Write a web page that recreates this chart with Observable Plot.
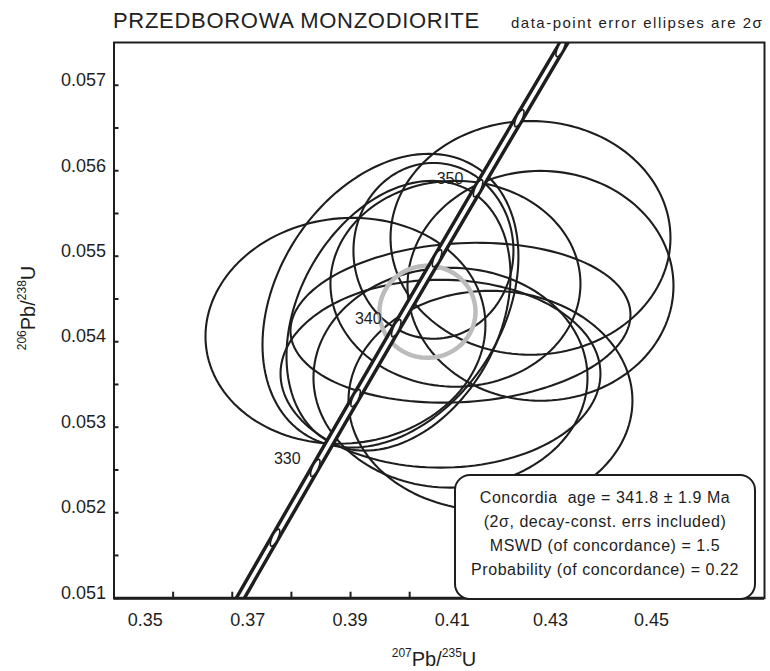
<!DOCTYPE html>
<html><head><meta charset="utf-8">
<script src="https://cdn.jsdelivr.net/npm/d3@7"></script>
<script src="https://cdn.jsdelivr.net/npm/@observablehq/plot@0.6"></script>
<style>
body{margin:0;background:#fff;}
#wrap{position:relative;width:770px;height:671px;font-family:"Liberation Sans",Arial,sans-serif;color:#1e1e1e;overflow:hidden;}
.ov{position:absolute;white-space:nowrap;}
sup{font-size:0.6em;vertical-align:0;position:relative;top:-0.75em;line-height:0;}
#legend{position:absolute;left:454px;top:474px;width:298px;height:112px;border:2px solid #1e1e1e;border-radius:16px;background:#fff;text-align:center;font-size:16px;line-height:24px;padding-top:10px;box-sizing:content-box;letter-spacing:0.55px;}
</style></head><body><div id="wrap"></div>
<script>
// ---- texts ----
const titleText = "PRZEDBOROWA MONZODIORITE";
const subtitleText = "data-point error ellipses are 2σ";
const legendLines = [
  "Concordia\u00a0\u00a0age = 341.8 ± 1.9 Ma",
  "(2σ, decay-const. errs included)",
  "MSWD (of concordance) = 1.5",
  "Probability (of concordance) = 0.22"
];

// ---- axes ----
const xTickValues = [0.36, 0.37, 0.38, 0.39, 0.40, 0.41, 0.42, 0.43, 0.44, 0.45];
const xLabelText = ["0.35", "0.37", "0.39", "0.41", "0.43", "0.45"];
const xLabelAt = [0.3553, 0.3726, 0.3899, 0.4072, 0.4238, 0.4409];
const yLabelValues = [0.051, 0.052, 0.053, 0.054, 0.055, 0.056, 0.057];
const yTickValues = [0.051, 0.0515, 0.052, 0.0525, 0.053, 0.0535, 0.054, 0.0545, 0.055, 0.0555, 0.056, 0.0565, 0.057];

// ---- data-point error ellipses (2 sigma) ----
const ellipseId  = ["a", "b", "c", "d", "e", "f", "g", "h", "i", "j", "k"];
const ellipseX   = [0.38914, 0.39675, 0.39811, 0.40402, 0.40774, 0.42043, 0.42212, 0.41366, 0.40859, 0.40521, 0.40690];
const ellipseY   = [0.054128, 0.054480, 0.054304, 0.055063, 0.054678, 0.055215, 0.054654, 0.053310, 0.054222, 0.053626, 0.053579];
const ellipseSx  = [0.02367, 0.02164, 0.01894, 0.01353, 0.02114, 0.02367, 0.02249, 0.02401, 0.02875, 0.02705, 0.02317];
const ellipseSy  = [0.001321, 0.001718, 0.001578, 0.001028, 0.001204, 0.001367, 0.001344, 0.001286, 0.000935, 0.001099, 0.001286];
const ellipseRho = [0.05, 0.30, 0.30, 0.0, 0.0, 0.0, 0.0, 0.0, 0.10, 0.0, 0.0];

// ---- concordia age ellipse (grey) ----
const meanX = 0.40301, meanY = 0.054350, meanSx = 0.00812, meanSy = 0.000538, meanRho = 0.0;

// ---- concordia curve ----
const concordiaAge = [320, 325, 330, 335, 340, 345, 350, 355, 360, 365];
const concordiaX = [0.370468, 0.377233, 0.384032, 0.390862, 0.397728, 0.404629, 0.411563, 0.418531, 0.425533, 0.432569];
const concordiaY = [0.050893, 0.051708, 0.052524, 0.053341, 0.054158, 0.054976, 0.055795, 0.056614, 0.057434, 0.058254];
const markerAges = [325, 330, 335, 340, 345, 350, 355, 360];
const labelAges = [330, 340, 350];
const markerSx = 0.00080, markerSy = 0.000100, markerRho = 0.75;

// ---- build tables ----
function ellipse(id, cx, cy, sx, sy, rho, n = 144) {
  const pts = [];
  const s = Math.sqrt(1 - rho * rho);
  for (let k = 0; k <= n; k++) {
    const t = 2 * Math.PI * k / n;
    pts.push({id, x: cx + sx * Math.cos(t), y: cy + sy * (rho * Math.cos(t) + s * Math.sin(t))});
  }
  return pts;
}
const ellipsePts = ellipseId.flatMap((id, i) => ellipse(id, ellipseX[i], ellipseY[i], ellipseSx[i], ellipseSy[i], ellipseRho[i]));
const meanPts = ellipse("mean", meanX, meanY, meanSx, meanSy, meanRho);
const concordia = concordiaAge.map((a, i) => ({age: a, x: concordiaX[i], y: concordiaY[i]}));
const byAge = new Map(concordia.map(d => [d.age, d]));
const markerPts = markerAges.flatMap(a => ellipse(a, byAge.get(a).x, byAge.get(a).y, markerSx, markerSy, markerRho, 48));
const ageLabels = labelAges.map(a => ({age: a, x: byAge.get(a).x, y: byAge.get(a).y}));
const xLabelMap = new Map(xLabelAt.map((v, i) => [v, xLabelText[i]]));

const ink = "#1e1e1e";
const fam = "'Liberation Sans', Arial, sans-serif";

const chart = Plot.plot({
  width: 770, height: 671,
  marginLeft: 113.5, marginRight: 6, marginTop: 42, marginBottom: 73.3,
  x: {domain: [0.35, 0.46], axis: null},
  y: {domain: [0.051, 0.0575], axis: null},
  style: {fontFamily: fam, background: "white", color: ink},
  marks: [
    Plot.line(ellipsePts, {x: "x", y: "y", z: "id", stroke: ink, strokeWidth: 2.1, clip: true}),
    Plot.line(meanPts, {x: "x", y: "y", stroke: "#bcbcbc", strokeWidth: 4.5, clip: true}),
    Plot.line(concordia, {x: "x", y: "y", stroke: ink, strokeWidth: 10.5, clip: true}),
    Plot.line(concordia, {x: "x", y: "y", stroke: "white", strokeWidth: 3.6, clip: true}),
    Plot.line(markerPts, {x: "x", y: "y", z: "id", stroke: ink, strokeWidth: 1.6, fill: "white", clip: true}),
    Plot.text(ageLabels, {x: "x", y: "y", text: d => String(d.age), dx: -28, dy: -9, fontSize: 16, fill: ink, fontFamily: fam, letterSpacing: "1px"}),
    Plot.axisX({ticks: xTickValues, tickSize: 6, dy: -6, tickFormat: () => "", strokeWidth: 2, label: null}),
    Plot.axisX({ticks: xLabelAt, tickSize: 0, tickPadding: 15, tickFormat: d => xLabelMap.get(d), fontSize: 18, label: null}),
    Plot.axisY({ticks: yTickValues, tickSize: 5, dx: 5, tickFormat: () => "", strokeWidth: 2, label: null}),
    Plot.axisY({ticks: yLabelValues, tickSize: 0, tickPadding: 8, dy: -5, tickFormat: d => d.toFixed(3), fontSize: 18, label: null}),
    Plot.frame({stroke: ink, strokeWidth: 2}),
    Plot.ruleY([0.051], {stroke: ink, strokeWidth: 3})
  ]
});

const wrap = document.getElementById("wrap");
wrap.appendChild(chart);
chart.style.position = "absolute";
chart.style.left = "0px";
chart.style.top = "0px";

function addDiv(html, css) {
  const d = document.createElement("div");
  d.className = "ov";
  d.innerHTML = html;
  Object.assign(d.style, css);
  wrap.appendChild(d);
  return d;
}
addDiv(titleText, {left: "113px", top: "8px", fontSize: "22px", lineHeight: "26px", letterSpacing: "0.7px", color: "#222"});
addDiv(subtitleText, {left: "511px", top: "14px", fontSize: "15px", lineHeight: "18px", letterSpacing: "1.5px", color: "#222"});
addDiv("<sup>207</sup>Pb/<sup>235</sup>U", {left: "434px", top: "649px", fontSize: "20px", lineHeight: "20px", transform: "translateX(-50%)"});
addDiv("<sup>206</sup>Pb/<sup>238</sup>U", {left: "28px", top: "308px", fontSize: "20px", lineHeight: "20px", transform: "translate(-50%,-50%) rotate(-90deg)"});

const leg = document.createElement("div");
leg.id = "legend";
leg.innerHTML = legendLines.map(s => `<div>${s}</div>`).join("");
wrap.appendChild(leg);
</script>
</body></html>
